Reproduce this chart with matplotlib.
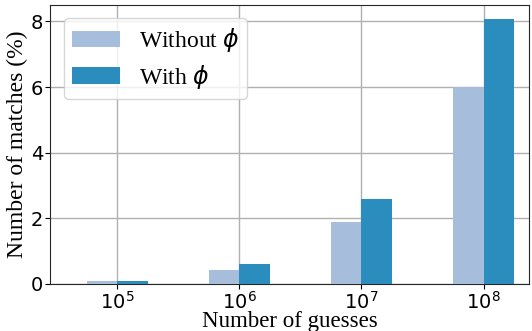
import numpy as np
import matplotlib
matplotlib.use('Agg')
import matplotlib.pyplot as plt

guesses = ['$10^5$', '$10^6$', '$10^7$', '$10^8$']
without_phi = [0.08, 0.42, 1.9, 6.0]
with_phi = [0.1, 0.6, 2.6, 8.07]

c_light = '#a6bddb'
c_dark = '#2b8cbe'

fig = plt.figure(figsize=(5.32, 3.31), dpi=100)
ax = fig.add_axes([0.094, 0.142, 0.9, 0.843])

x = np.arange(len(guesses))
w = 0.25
ax.bar(x - w / 2, without_phi, w, color=c_light, label=r'Without $\phi$', zorder=3)
ax.bar(x + w / 2, with_phi, w, color=c_dark, label=r'With $\phi$', zorder=3)

ax.set_xticks(x)
ax.set_xticklabels(guesses)
ax.set_xlim(-0.55, 3.37)
ax.set_ylim(0, 8.5)
ax.set_yticks([0, 2, 4, 6, 8])
ax.tick_params(labelsize=14, pad=1.5)
ax.grid(True, color='#b0b0b0', linewidth=1, zorder=0)
for s in ax.spines.values():
    s.set_color('#262626')

ax.set_xlabel('Number of guesses', family='Liberation Serif', fontsize=16.5, labelpad=-1)
ax.set_ylabel('Number of matches (%)', family='Liberation Serif', fontsize=17, labelpad=2)

leg = ax.legend(loc='upper left', prop={'family': 'Liberation Serif', 'size': 17},
                borderpad=0.35, handlelength=2.0, handletextpad=0.8, labelspacing=0.35,
                fancybox=True, framealpha=0.8, bbox_to_anchor=(0.005, 0.995))

fig.savefig('out.png', dpi=100)
